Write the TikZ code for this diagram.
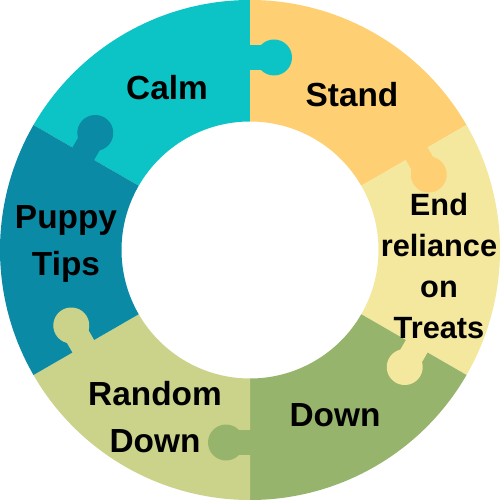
\documentclass[tikz,border=0pt]{standalone}
\usepackage{fontspec}
\setmainfont{Liberation Sans}
\usepackage{tikz}
\usetikzlibrary{calc}

\definecolor{calmcyan}{HTML}{0CC4C6}
\definecolor{standorange}{HTML}{FED073}
\definecolor{endyellow}{HTML}{F4E79E}
\definecolor{downgreen}{HTML}{96B46B}
\definecolor{randomgreen}{HTML}{CBD38A}
\definecolor{puppyteal}{HTML}{0A8AA5}

\def\rin{2.57}
\def\rout{5}
\def\ringpiece[#1](#2:#3){\fill[#1] (#2:\rout) arc (#2:#3:\rout) -- (#3:\rin) arc (#3:#2:\rin) -- cycle;}
\def\knob[#1](#2){\begin{scope}[rotate=#2]
	\fill[#1] (3.6, 0.05) rectangle (4.1, -0.48);
	\fill[#1] (3.85, -0.48) circle (0.36);
\end{scope}}

\tikzset{
	piecetext/.style={align=center, inner sep=0pt, font=\bfseries\fontsize{19}{23.3}\selectfont},
	widetext/.style={piecetext, font=\bfseries\fontsize{19}{26.7}\selectfont},
	narrowtext/.style={piecetext, font=\bfseries\fontsize{17.5}{23.3}\selectfont}
}

\begin{document}
\begin{tikzpicture}
			%%%%% START %%%%%
			
			\useasboundingbox (-5, -5) rectangle (5, 5);
			
			\ringpiece[calmcyan](150:90)
			\ringpiece[standorange](90:30)
			\ringpiece[endyellow](30:-30)
			\ringpiece[downgreen](-30:-90)
			\ringpiece[randomgreen](-90:-150)
			\ringpiece[puppyteal](-150:-210)
			
			\knob[calmcyan](90)
			\knob[standorange](30)
			\knob[endyellow](-30)
			\knob[downgreen](-90)
			\knob[randomgreen](-150)
			\knob[puppyteal](150)
			
			\node[piecetext] (calm) at (-1.66, 3.24) {Calm};
			\node[piecetext] (stand) at (2.04, 3.1) {Stand};
			\node[narrowtext] (endrel) at (3.78, -0.32) {End\\reliance\\on\\Treats};
			\node[piecetext] (down) at (1.7, -3.3) {Down};
			\node[widetext] (random) at (-1.9, -3.34) {Random\\Down};
			\node[widetext] (puppy) at (-3.68, 0.12) {Puppy\\Tips};
			
			%%%%% END %%%%%
		\end{tikzpicture}
\end{document}
